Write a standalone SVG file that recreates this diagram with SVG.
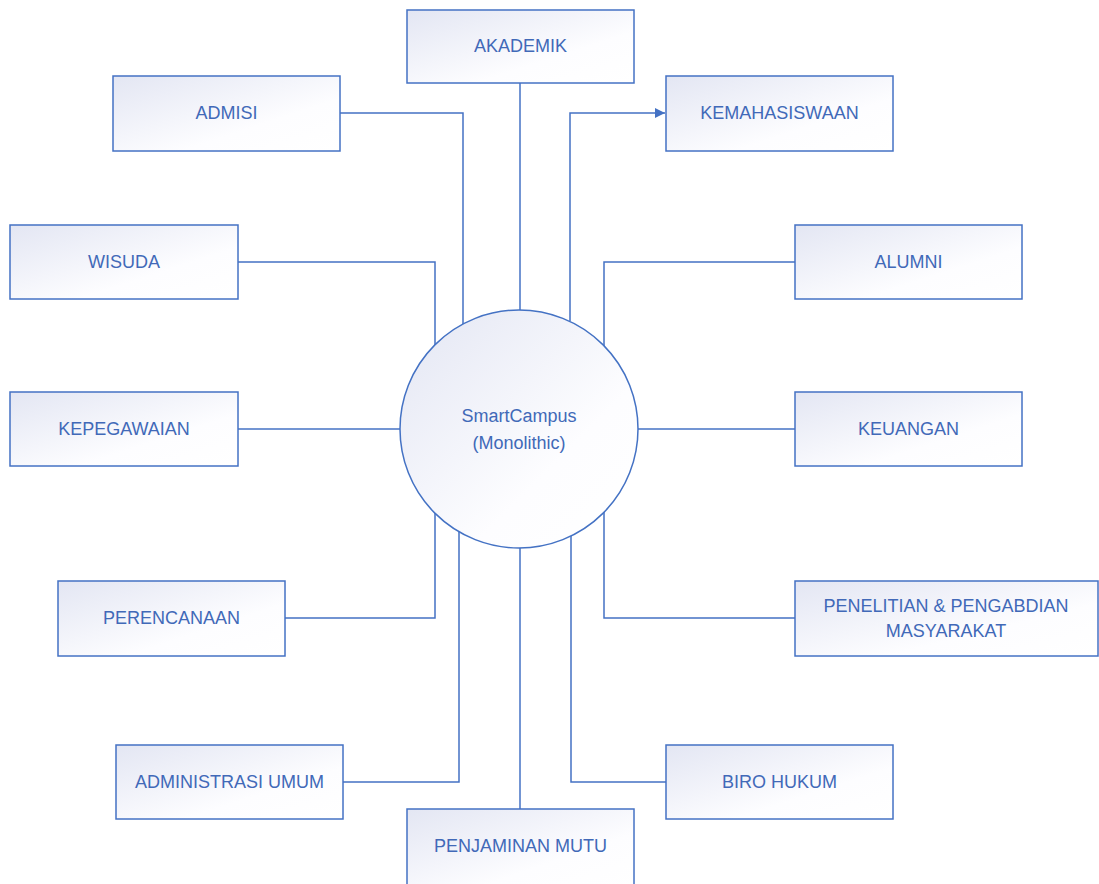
<svg xmlns="http://www.w3.org/2000/svg" width="1099" height="884" viewBox="0 0 1099 884">
  <style>
    .box { fill: url(#fillGrad); stroke: #4472c4; stroke-width: 1.5; }
    .hub { fill: url(#fillGrad); stroke: #4472c4; stroke-width: 1.5; }
    .lbl { font-family: "Liberation Sans", Arial, sans-serif; font-size: 18px; fill: #4169b8; text-anchor: middle; dominant-baseline: central; }
    .wire { fill: none; stroke: #4472c4; stroke-width: 1.5; }
  </style>
  <defs>
    <linearGradient id="fillGrad" x1="0" y1="0" x2="1" y2="1">
      <stop offset="0" stop-color="#e3e6f3"/>
      <stop offset="0.65" stop-color="#fdfdff"/>
      <stop offset="1" stop-color="#ffffff"/>
    </linearGradient>
    <marker id="arrow" viewBox="0 0 10 10" refX="10" refY="5" markerWidth="10" markerHeight="10" markerUnits="userSpaceOnUse" orient="auto">
      <path d="M0,0 L10,5 L0,10 z" fill="#4472c4"/>
    </marker>
  </defs>

  <rect width="1099" height="884" fill="#ffffff"/>

  <!-- connectors -->
  <g id="connectors">
    <path class="wire" d="M520,83 V310"/>
    <path class="wire" d="M340,113 H463 V324"/>
    <path class="wire" d="M570,321 V113 H665" marker-end="url(#arrow)"/>
    <path class="wire" d="M238,262 H435 V345"/>
    <path class="wire" d="M795,262 H604 V346"/>
    <path class="wire" d="M238,429 H400"/>
    <path class="wire" d="M638,429 H795"/>
    <path class="wire" d="M285,618 H435 V513"/>
    <path class="wire" d="M795,618 H604 V512"/>
    <path class="wire" d="M343,782 H459 V532"/>
    <path class="wire" d="M666,782 H571 V536"/>
    <path class="wire" d="M520,548 V809"/>
  </g>

  <g id="hub">
    <circle class="hub" cx="519" cy="429" r="119"/>
    <text class="lbl" x="519" y="416">SmartCampus</text>
    <text class="lbl" x="519" y="443">(Monolithic)</text>
  </g>

  <g id="akademik">
    <rect class="box" x="407" y="10" width="227" height="73"/>
    <text class="lbl" x="520.5" y="46">AKADEMIK</text>
  </g>
  <g id="admisi">
    <rect class="box" x="113" y="76" width="227" height="75"/>
    <text class="lbl" x="226.5" y="113">ADMISI</text>
  </g>
  <g id="kemahasiswaan">
    <rect class="box" x="666" y="76" width="227" height="75"/>
    <text class="lbl" x="779.5" y="113">KEMAHASISWAAN</text>
  </g>
  <g id="wisuda">
    <rect class="box" x="10" y="225" width="228" height="74"/>
    <text class="lbl" x="124" y="262">WISUDA</text>
  </g>
  <g id="alumni">
    <rect class="box" x="795" y="225" width="227" height="74"/>
    <text class="lbl" x="908.5" y="262">ALUMNI</text>
  </g>
  <g id="kepegawaian">
    <rect class="box" x="10" y="392" width="228" height="74"/>
    <text class="lbl" x="124" y="429">KEPEGAWAIAN</text>
  </g>
  <g id="keuangan">
    <rect class="box" x="795" y="392" width="227" height="74"/>
    <text class="lbl" x="908.5" y="429">KEUANGAN</text>
  </g>
  <g id="perencanaan">
    <rect class="box" x="58" y="581" width="227" height="75"/>
    <text class="lbl" x="171.5" y="618">PERENCANAAN</text>
  </g>
  <g id="penelitian">
    <rect class="box" x="795" y="581" width="303" height="75"/>
    <text class="lbl" x="946" y="606">PENELITIAN &amp; PENGABDIAN</text>
    <text class="lbl" x="946" y="631">MASYARAKAT</text>
  </g>
  <g id="administrasi-umum">
    <rect class="box" x="116" y="745" width="227" height="74"/>
    <text class="lbl" x="229.5" y="782">ADMINISTRASI UMUM</text>
  </g>
  <g id="biro-hukum">
    <rect class="box" x="666" y="745" width="227" height="74"/>
    <text class="lbl" x="779.5" y="782">BIRO HUKUM</text>
  </g>
  <g id="penjaminan-mutu">
    <rect class="box" x="407" y="809" width="227" height="80"/>
    <text class="lbl" x="520.5" y="846">PENJAMINAN MUTU</text>
  </g>
</svg>
